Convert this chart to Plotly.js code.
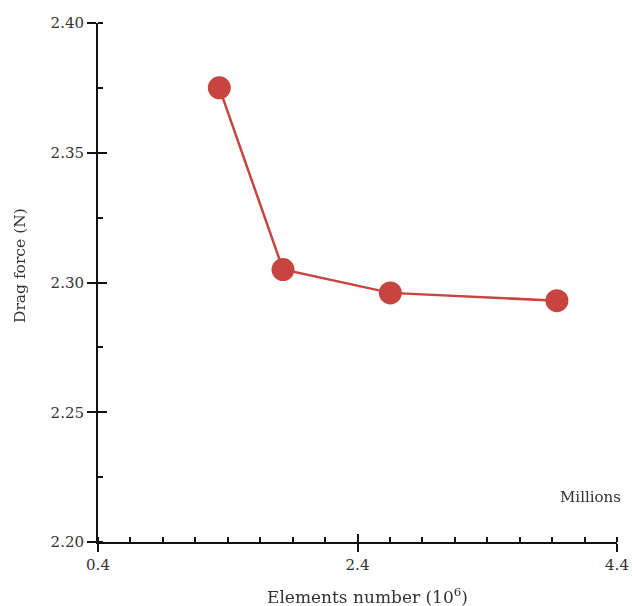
<!DOCTYPE html>
<html>
<head>
<meta charset="utf-8">
<script src="https://cdn.plot.ly/plotly-3.0.1.min.js"></script>
<style>html,body{margin:0;padding:0;background:#fff;}#chart{width:632px;height:606px;}</style>
</head>
<body>
<div id="chart"></div>
<script>
const elements = [1.335, 1.826, 2.653, 3.937];
const dragForce = [2.375, 2.305, 2.296, 2.293];
const xTitle = 'Elements number (10<sup>6</sup>)';
const yTitle = 'Drag force (N)';
const unitNote = 'Millions';

const red = '#c8453f';
const font = {family: 'DejaVu Serif, Liberation Serif, serif', size: 15, color: '#333'};
const xTitleFont = {family: 'DejaVu Serif, Liberation Serif, serif', size: 17, color: '#333'};
const yTitleFont = {family: 'DejaVu Serif, Liberation Serif, serif', size: 15.5, color: '#333'};

const traces = [
  {
    x: elements, y: dragForce, type: 'scatter', mode: 'lines+markers',
    line: {color: red, width: 2.5},
    marker: {color: red, size: 23},
    cliponaxis: false, hoverinfo: 'skip'
  },
  {
    x: elements, y: dragForce, type: 'scatter', mode: 'markers',
    xaxis: 'x2', yaxis: 'y2', opacity: 0,
    marker: {size: 1}, hoverinfo: 'skip', showlegend: false
  }
];

const layout = {
  width: 632, height: 606,
  margin: {l: 98, r: 15, t: 23, b: 64},
  paper_bgcolor: '#fff', plot_bgcolor: '#fff',
  showlegend: false,
  font: font,
  xaxis: {
    range: [0.4, 4.4], tick0: 0.4, dtick: 2, tickformat: '.1f',
    showgrid: false, zeroline: false,
    showline: true, linecolor: '#111', linewidth: 2,
    ticks: 'outside', ticklen: 8, tickwidth: 2, tickcolor: '#111',
    minor: {ticks: 'inside', tick0: 0.4, dtick: 0.25, ticklen: 5, tickwidth: 2, tickcolor: '#111', showgrid: false},
    tickfont: font
  },
  yaxis: {
    range: [2.20, 2.40], tick0: 2.20, dtick: 0.05, tickformat: '.2f',
    showgrid: false, zeroline: false,
    showline: true, linecolor: '#111', linewidth: 2,
    ticks: 'outside', ticklen: 9, tickwidth: 2, tickcolor: '#111',
    minor: {ticks: 'inside', tick0: 2.20, dtick: 0.025, ticklen: 5, tickwidth: 2, tickcolor: '#111', showgrid: false},
    tickfont: font
  },
  xaxis2: {
    overlaying: 'x', anchor: 'y2', range: [0.4, 4.4], tick0: 0.4, dtick: 2,
    showgrid: false, zeroline: false, showline: false, showticklabels: false,
    ticks: 'inside', ticklen: 8, tickwidth: 2, tickcolor: '#111'
  },
  yaxis2: {
    overlaying: 'y', anchor: 'x2', side: 'left', range: [2.20, 2.40], tick0: 2.20, dtick: 0.05,
    showgrid: false, zeroline: false, showline: false, showticklabels: false,
    ticks: 'inside', ticklen: 9, tickwidth: 2, tickcolor: '#111'
  },
  annotations: [
    {text: unitNote, xref: 'paper', yref: 'paper', x: 1, y: 0.087, xanchor: 'right', yanchor: 'middle',
     xshift: 6, showarrow: false, font: font},
    {text: xTitle, xref: 'paper', yref: 'paper', x: 0.52, y: -0.104, xanchor: 'center', yanchor: 'middle',
     showarrow: false, font: xTitleFont},
    {text: yTitle, xref: 'paper', yref: 'paper', x: -0.150, y: 0.532, xanchor: 'center', yanchor: 'middle',
     textangle: -90, showarrow: false, font: yTitleFont}
  ]
};

Plotly.newPlot('chart', traces, layout, {displayModeBar: false, staticPlot: true});
</script>
</body>
</html>
